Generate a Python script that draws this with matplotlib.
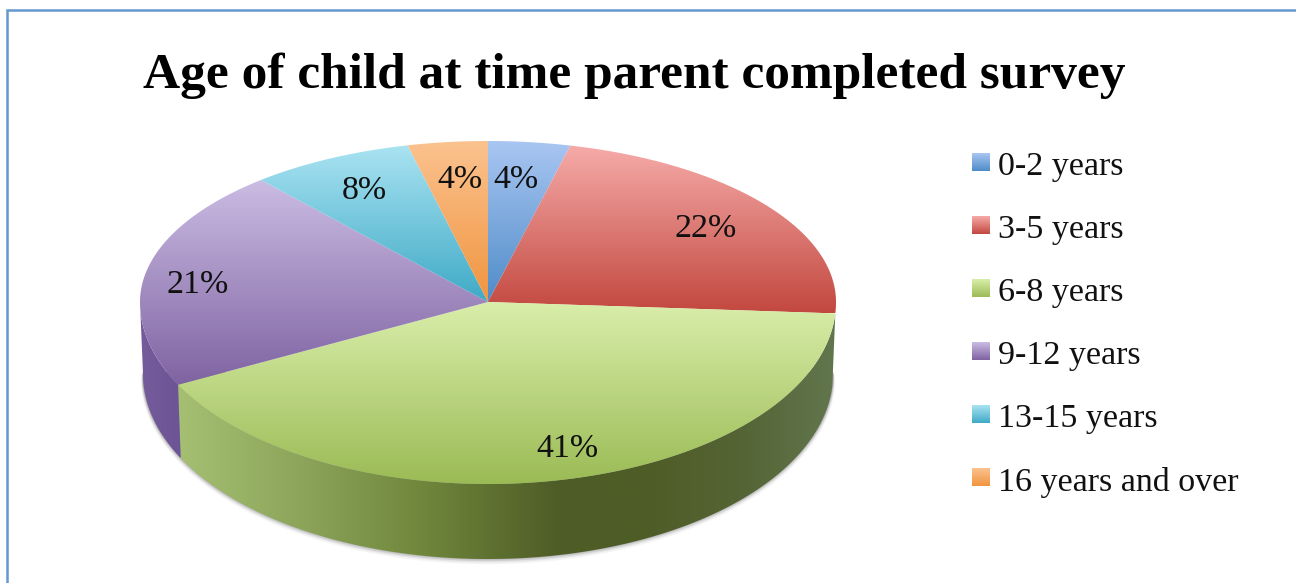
import numpy as np
import matplotlib
matplotlib.use("Agg")
import matplotlib.pyplot as plt
from matplotlib.patches import Polygon

title = "Age of child at time parent completed survey"
categories = ["0-2 years", "3-5 years", "6-8 years", "9-12 years", "13-15 years", "16 years and over"]
values = [3.8, 22.2, 41.49, 21.2, 7.6, 3.71]

top_light = ["#A9C6F2", "#F6ABA9", "#D9EEAA", "#CBBCE3", "#A9E3F2", "#FBC28F"]
top_dark = ["#4F8CC8", "#C2483F", "#9BBB55", "#7F63A2", "#3FAAC6", "#F0953F"]

W, H = 1296, 583
CX, CY = 488, 302
RX, RY_UP, RY_DOWN = 348, 161, 182
BX, BCY, BRY = 345, 374, 185

label_xy = [(516, 177), (706, 226), (567, 446), (198, 282), (364, 188), (460, 177)]

side_x = [140, 176, 300, 420, 560, 640, 740, 836]
green_side = [(165, 192, 115), (165, 192, 115), (140, 165, 90), (112, 135, 60),
              (78, 92, 38), (78, 92, 38), (84, 100, 52), (98, 118, 78)]
purple_side = [(118, 92, 155), (108, 84, 150)] + [(108, 84, 150)] * 6

fig = plt.figure(figsize=(W / 100, H / 100), dpi=100, facecolor="white")
ax = fig.add_axes([0, 0, 1, 1])
ax.set_xlim(0, W)
ax.set_ylim(H, 0)
ax.axis("off")


def hex2rgb(c):
    return np.array(matplotlib.colors.to_rgb(c))


def top_arc(a, b, n=200):
    t = np.linspace(a, b, n)
    ry = np.where(np.cos(t) >= 0, RY_UP, RY_DOWN)
    return CX + RX * np.sin(t), CY - ry * np.cos(t)


def bottom_arc(a, b, n=200):
    t = np.linspace(a, b, n)
    return CX + BX * np.sin(t), BCY - BRY * np.cos(t)


def gradient_fill(poly, image, extent, zorder):
    patch = Polygon(poly, closed=True, transform=ax.transData, fc="none", ec="none")
    ax.add_patch(patch)
    im = ax.imshow(image, extent=extent, aspect="auto", zorder=zorder, interpolation="bilinear")
    im.set_clip_path(patch)
    return im


# soft shadow under the pie
t = np.linspace(np.pi / 2, 3 * np.pi / 2, 200)
for grow, alpha in zip([8, 6, 4.5, 3, 1.5], [0.06, 0.10, 0.14, 0.18, 0.24]):
    g = grow * np.abs(np.cos(t)) ** 0.4
    sx = CX + (BX + g) * np.sin(t)
    sy = BCY - 2 - (BRY + g * 0.9) * np.cos(t)
    ax.add_patch(Polygon(np.column_stack([sx, sy]), closed=True, fc="#505050", ec="none", alpha=alpha, zorder=1))

fractions = np.array(values) / np.sum(values)
edges = np.concatenate([[0], np.cumsum(fractions)]) * 2 * np.pi

# side wall
for i, stops in {2: green_side, 3: purple_side}.items():
    a, b = max(edges[i], np.pi / 2), min(edges[i + 1], 3 * np.pi / 2)
    xt, yt = top_arc(a, b)
    xb, yb = bottom_arc(a, b)
    poly = np.column_stack([np.r_[xt, xb[::-1]], np.r_[yt, yb[::-1]]])
    xs = np.linspace(side_x[0], side_x[-1], 700)
    arr = np.array(stops, dtype=float) / 255
    row = np.column_stack([np.interp(xs, side_x, arr[:, k]) for k in range(3)])
    gradient_fill(poly, row[np.newaxis, :, :], (side_x[0], side_x[-1], H, 0), 2)

# top faces
for i in range(len(values)):
    xa, ya = top_arc(edges[i], edges[i + 1])
    poly = np.column_stack([np.r_[CX, xa], np.r_[CY, ya]])
    y0, y1 = poly[:, 1].min(), poly[:, 1].max()
    s = np.linspace(0, 1, 256)[:, None, None]
    img = hex2rgb(top_light[i])[None, None, :] * (1 - s) + hex2rgb(top_dark[i])[None, None, :] * s
    gradient_fill(poly, img, (0, W, y1, y0), 3)

# value labels
for (x, y), v in zip(label_xy, values):
    ax.text(x, y + 3, f"{v:.0f}%", ha="center", va="center", fontsize=24.5,
            family="Liberation Serif", color="#111111", zorder=5)

# title
ax.text(634, 76, title, ha="center", va="center", fontsize=37, fontweight="bold",
        family="Liberation Serif", color="#000000")

# legend
for i, name in enumerate(categories):
    y = 164 + i * 63
    s = np.linspace(0, 1, 64)[:, None, None]
    img = hex2rgb(top_light[i])[None, None, :] * (1 - s) + hex2rgb(top_dark[i])[None, None, :] * s
    ax.imshow(img, extent=(972, 990, y + 7, y - 11), aspect="auto", zorder=3)
    ax.text(998, y + 3, name, ha="left", va="center", fontsize=24.5,
            family="Liberation Serif", color="#111111")

ax.set_xlim(0, W)
ax.set_ylim(H, 0)

# chart frame
ax.plot([7, 7, W], [H, 10, 10], color="#6298CF", lw=1.8, solid_joinstyle="miter", zorder=6)

fig.savefig("out.png", dpi=100, facecolor="white")
